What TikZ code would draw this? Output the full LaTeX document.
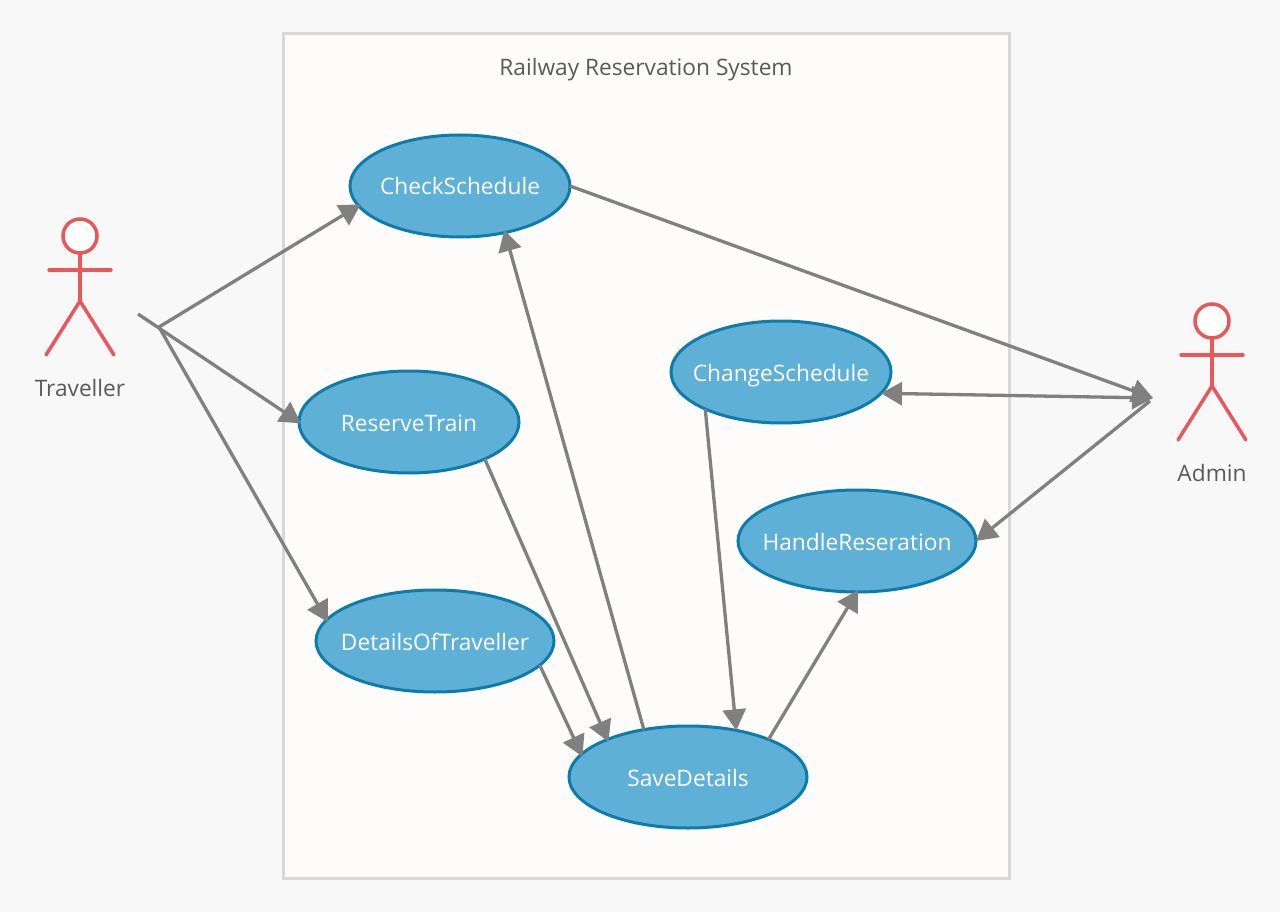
\documentclass[tikz,border=0pt]{standalone}
\usepackage{fontspec}
\setmainfont{Open Sans}
\usetikzlibrary{arrows.meta,shapes.geometric}
\definecolor{page}{HTML}{F8F8F8}
\definecolor{sheet}{HTML}{FDFCFA}
\definecolor{frame}{HTML}{D8D8D8}
\definecolor{usefill}{HTML}{5FB0D6}
\definecolor{useline}{HTML}{0E7CAB}
\definecolor{actorred}{HTML}{E9575A}
\definecolor{link}{HTML}{808080}
\definecolor{caption}{HTML}{5A5A5A}

\begin{document}
\begin{tikzpicture}[x=1pt,y=-1pt,>={Triangle[length=21pt,width=23pt]},
 usecase/.style={ellipse,draw=useline,line width=3pt,fill=usefill,text=white,
 font=\fontsize{22.7}{26}\selectfont,inner xsep=-15pt,inner ysep=0pt,outer sep=0pt,
 text height=18pt,text depth=0pt,minimum width=#1,minimum height=102pt},
 usecase/.default=220pt,
 connector/.style={line width=3.3pt,draw=link},
 reach/.style={connector,shorten >=-2.5pt},
 stick/.style={line width=3.5pt,draw=actorred,line cap=round},
 actorname/.style={text=caption,font=\fontsize{22.7}{26}\selectfont}]
\useasboundingbox (0,0) rectangle (1280,912);
\fill[page] (0,0) rectangle (1280,912);
\node[draw=frame,line width=3pt,fill=sheet,minimum width=726pt,minimum height=844pt,inner sep=0pt] (system) at (646,456) {};
\node[actorname] (title) at (646,70) {Railway Reservation System};

\node[usecase] (check) at (460,186) {CheckSchedule};
\node[usecase] (reserve) at (409,422) {ReserveTrain};
\node[usecase=238pt] (details) at (435,641) {DetailsOfTraveller};
\node[usecase=238pt] (save) at (688,777) {SaveDetails};
\node[usecase] (change) at (781,372) {ChangeSchedule};
\node[usecase=238pt] (handle) at (857,541) {HandleReseration};

% actors
\foreach \name/\x/\y/\label in {traveller/80/236/Traveller,admin/1212/321/Admin}{
  \node[circle,stick,fill=white,minimum size=34pt,inner sep=0pt,outer sep=0pt] (\name) at (\x,\y) {};
  \draw[stick] (\name.south) -- ++(0,48) coordinate (\name hip);
  \draw[stick] (\x-31,\y+34) -- (\x+31,\y+34);
  \draw[stick] (\x-34,\y+119) -- (\name hip) -- (\x+34,\y+119);
  \node[actorname] (\name name) at (\x,\y+152) {\label};
}

\coordinate (tstart) at (138,314);
\coordinate (tjoin) at (159,327);
\coordinate (atip) at (1153,398);
\coordinate (ajoin) at (1150,401);

\foreach \a/\b in {tjoin/check.191,tstart/reserve.west,tjoin/details.169,
  reserve.334/save.155,details.347/save.168,save.133/check.314,save.25/handle.270}
  \draw[->,reach] (\a)--(\b);
\foreach \a/\b in {check.east/atip,ajoin/handle.east,change.206/save.44}
  \draw[->,connector] (\a)--(\b);
\draw[<->,connector] (change.348)--(atip);
\end{tikzpicture}
\end{document}
